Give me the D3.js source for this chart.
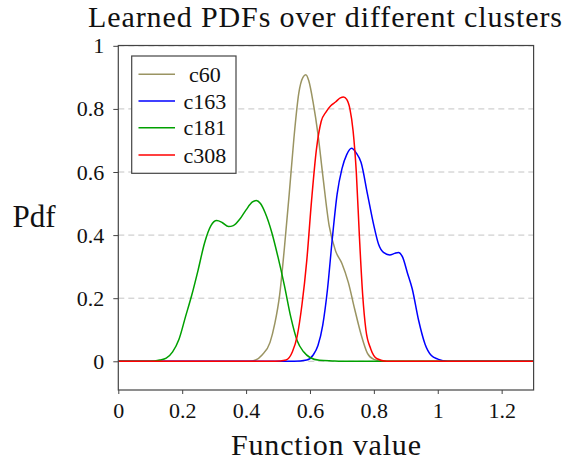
<!DOCTYPE html>
<html>
<head>
<meta charset="utf-8">
<script src="https://cdn.jsdelivr.net/npm/d3@7"></script>
<style>
  html, body { margin: 0; padding: 0; background: #fff; }
  svg { display: block; }
  text { font-family: "Liberation Serif", "DejaVu Serif", serif; fill: #111; }
</style>
</head>
<body>
<svg id="chart" width="567" height="461"></svg>
<script>
// Learned density curves per cluster (function value -> pdf)
const seriesNames = ["c60", "c163", "c181", "c308"];
const seriesColors = ["#9a9462", "#0000ff", "#00a000", "#ff0000"];

const c60X = [0, 0.41, 0.43, 0.45, 0.475, 0.49, 0.505, 0.52, 0.535, 0.55, 0.565, 0.578, 0.587, 0.596, 0.61, 0.625, 0.64, 0.66, 0.68, 0.70, 0.72, 0.74, 0.76, 0.78, 0.80, 0.83, 1.3];
const c60Y = [0, 0, 0.004, 0.02, 0.06, 0.12, 0.21, 0.36, 0.53, 0.71, 0.85, 0.9, 0.908, 0.89, 0.82, 0.72, 0.59, 0.43, 0.35, 0.31, 0.25, 0.165, 0.085, 0.025, 0.006, 0, 0];

const c163X = [0, 0.55, 0.59, 0.61, 0.625, 0.64, 0.655, 0.67, 0.685, 0.70, 0.715, 0.73, 0.745, 0.76, 0.78, 0.80, 0.815, 0.83, 0.85, 0.865, 0.877, 0.89, 0.905, 0.92, 0.94, 0.96, 0.98, 1.0, 1.03, 1.3];
const c163Y = [0, 0, 0.004, 0.02, 0.05, 0.115, 0.23, 0.39, 0.53, 0.61, 0.655, 0.675, 0.66, 0.63, 0.53, 0.43, 0.37, 0.345, 0.337, 0.342, 0.345, 0.33, 0.28, 0.23, 0.13, 0.055, 0.018, 0.007, 0, 0];

const c181X = [0, 0.10, 0.13, 0.15, 0.17, 0.19, 0.21, 0.23, 0.25, 0.27, 0.29, 0.308, 0.325, 0.345, 0.36, 0.38, 0.40, 0.42, 0.432, 0.445, 0.46, 0.48, 0.50, 0.52, 0.54, 0.56, 0.58, 0.60, 0.63, 0.67, 0.7, 1.3];
const c181Y = [0, 0, 0.004, 0.01, 0.03, 0.07, 0.14, 0.21, 0.29, 0.375, 0.43, 0.446, 0.44, 0.427, 0.43, 0.45, 0.48, 0.505, 0.51, 0.50, 0.47, 0.41, 0.33, 0.24, 0.14, 0.065, 0.03, 0.012, 0.003, 0.001, 0, 0];

const c308X = [0, 0.49, 0.525, 0.545, 0.56, 0.575, 0.59, 0.605, 0.62, 0.635, 0.65, 0.665, 0.68, 0.695, 0.705, 0.715, 0.725, 0.735, 0.745, 0.755, 0.765, 0.775, 0.79, 0.81, 0.84, 1.3];
const c308Y = [0, 0, 0.004, 0.03, 0.08, 0.18, 0.32, 0.51, 0.67, 0.76, 0.79, 0.81, 0.822, 0.835, 0.838, 0.83, 0.80, 0.73, 0.60, 0.39, 0.21, 0.10, 0.04, 0.008, 0, 0];

const xTicks = [0, 0.2, 0.4, 0.6, 0.8, 1, 1.2];
const yTicks = [0, 0.2, 0.4, 0.6, 0.8, 1];

const seriesX = [c60X, c163X, c181X, c308X];
const seriesY = [c60Y, c163Y, c181Y, c308Y];

const svg = d3.select("#chart");
const plotLeft = 118.3, plotRight = 533.6, plotTop = 45.5, plotBottom = 390;

const x = d3.scaleLinear().domain([0, 1.3]).range([plotLeft, plotRight]);
const y = d3.scaleLinear().domain([-0.091, 1.001]).range([plotBottom, plotTop]);

// horizontal dashed grid
svg.append("g")
  .selectAll("line")
  .data(yTicks)
  .join("line")
  .attr("x1", plotLeft).attr("x2", plotRight)
  .attr("y1", d => y(d)).attr("y2", d => y(d))
  .attr("stroke", "#c4c4c4")
  .attr("stroke-width", 1)
  .attr("stroke-dasharray", "6,4");

// curves
const line = d3.line()
  .x(d => x(d[0]))
  .y(d => y(d[1]))
  .curve(d3.curveMonotoneX);

svg.append("g")
  .selectAll("path")
  .data(seriesNames.map((n, i) => ({ name: n, color: seriesColors[i], pts: seriesX[i].map((v, j) => [v, seriesY[i][j]]) })))
  .join("path")
  .attr("d", d => line(d.pts))
  .attr("fill", "none")
  .attr("stroke", d => d.color)
  .attr("stroke-width", 1.5)
  .attr("stroke-linejoin", "round");

// axes
const fmt = d => d === 0 || d === 1 ? String(d) : d3.format(".1f")(d);
const xAxis = d3.axisBottom(x).tickValues(xTicks).tickSize(4).tickSizeOuter(0).tickFormat(fmt);
const gx = svg.append("g").attr("transform", `translate(0,${plotBottom})`).call(xAxis);
gx.select(".domain").remove();
gx.selectAll(".tick line").attr("stroke", "#444");
gx.selectAll(".tick text").attr("font-size", 22).attr("dy", "0.95em")
  .attr("font-family", "Liberation Serif, serif").attr("fill", "#111");

const yAxis = d3.axisLeft(y).tickValues(yTicks).tickSize(5).tickSizeOuter(0).tickFormat(fmt);
const gy = svg.append("g").attr("transform", `translate(${plotLeft},0)`).call(yAxis);
gy.select(".domain").remove();
gy.selectAll(".tick line").attr("stroke", "#444");
gy.selectAll(".tick text").attr("font-size", 22).attr("x", -14)
  .attr("font-family", "Liberation Serif, serif").attr("fill", "#111");

// frame
svg.append("rect")
  .attr("x", plotLeft).attr("y", plotTop)
  .attr("width", plotRight - plotLeft).attr("height", plotBottom - plotTop)
  .attr("fill", "none").attr("stroke", "#444").attr("stroke-width", 1.2);

// title and axis labels
svg.append("text").attr("x", 325).attr("y", 27).attr("text-anchor", "middle")
  .attr("font-size", 30).attr("textLength", 474).attr("lengthAdjust", "spacing")
  .text("Learned PDFs over different clusters");
svg.append("text").attr("x", 326).attr("y", 455).attr("text-anchor", "middle")
  .attr("font-size", 30).attr("textLength", 190).attr("lengthAdjust", "spacing")
  .text("Function value");
svg.append("text").attr("x", 34).attr("y", 227).attr("text-anchor", "middle")
  .attr("font-size", 31)
  .text("Pdf");

// legend
const lg = svg.append("g");
lg.append("rect").attr("x", 131.7).attr("y", 56).attr("width", 104.3).attr("height", 117.3)
  .attr("fill", "#fff").attr("stroke", "#444").attr("stroke-width", 1.2);
const rowY = [74.3, 101, 127.7, 155];
seriesNames.forEach((n, i) => {
  lg.append("line").attr("x1", 138.5).attr("x2", 175).attr("y1", rowY[i]).attr("y2", rowY[i])
    .attr("stroke", seriesColors[i]).attr("stroke-width", 1.5);
  lg.append("text").attr("x", 205).attr("y", rowY[i] + 7.5).attr("text-anchor", "middle")
    .attr("font-size", 22).text(n);
});
</script>
</body>
</html>
